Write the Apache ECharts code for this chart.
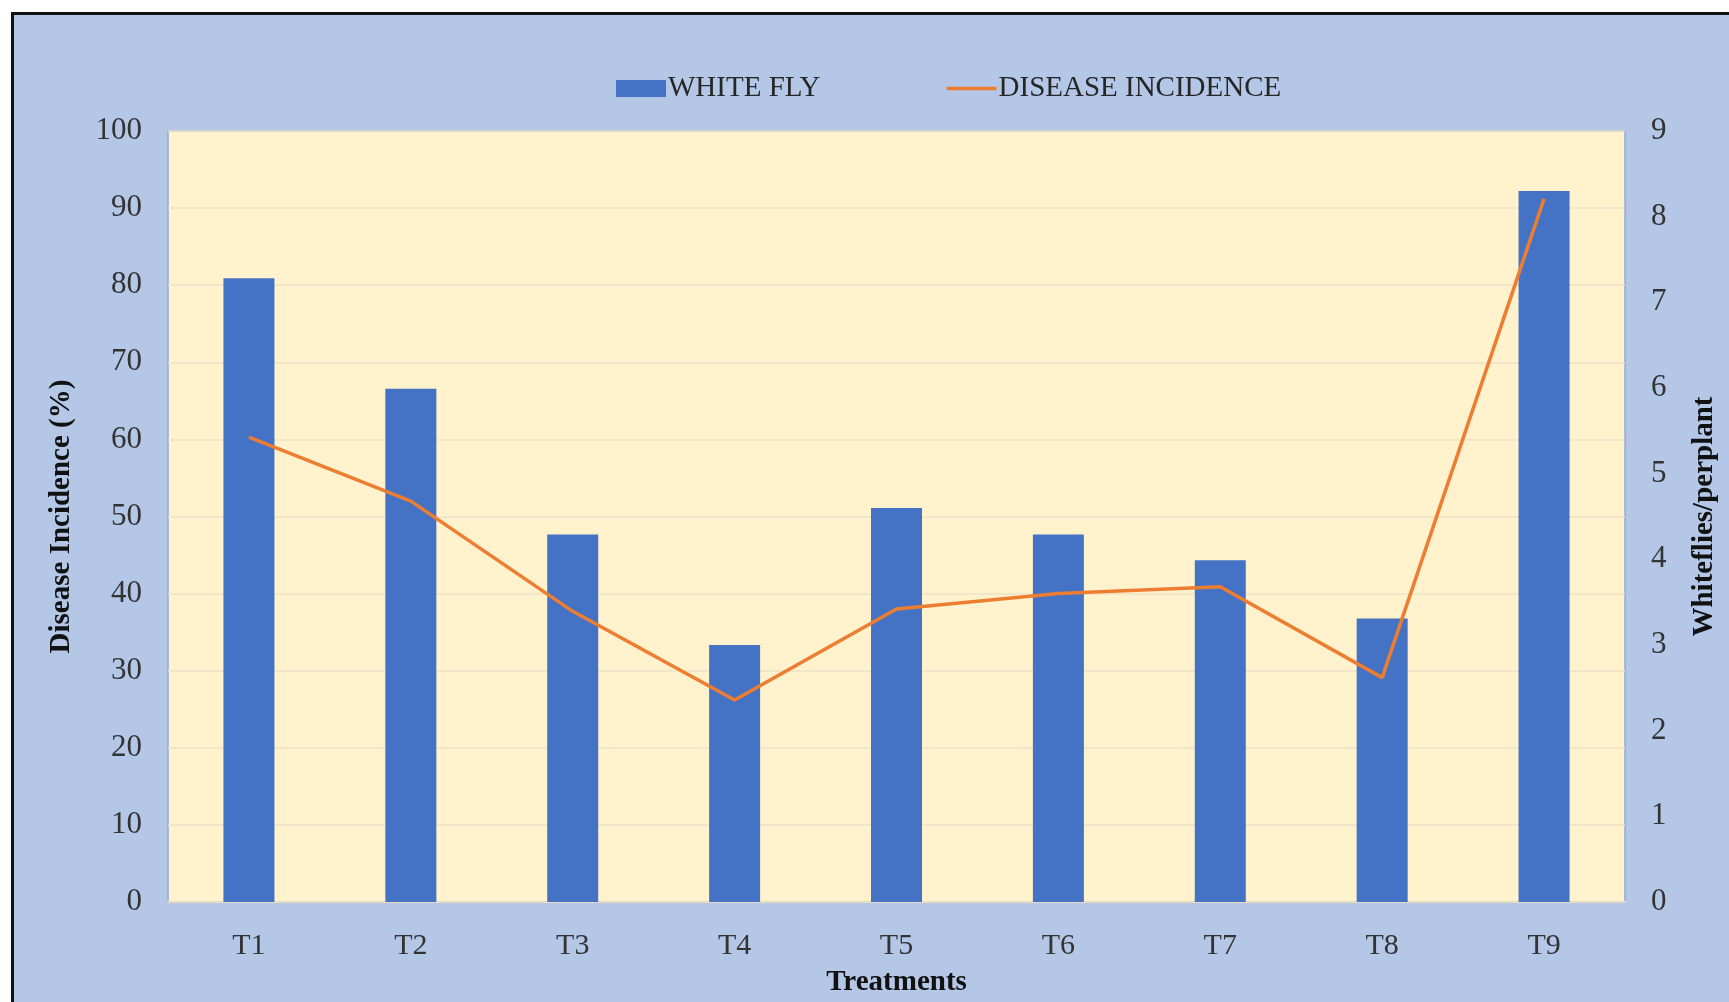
<!DOCTYPE html>
<html>
<head>
<meta charset="utf-8">
<script src="https://cdn.jsdelivr.net/npm/echarts@6/dist/echarts.min.js"></script>
<style>
html,body{margin:0;padding:0;background:#fff;width:1729px;height:1002px;overflow:hidden;}
#frame{position:absolute;left:11px;top:12px;width:1740px;height:1010px;background:#b4c7e7;border-left:3px solid #111;border-top:3px solid #111;}
#chart{position:absolute;left:0;top:0;width:1729px;height:1002px;}
</style>
</head>
<body>
<div id="frame"></div>
<div id="chart"></div>
<script>
const categories = ['T1','T2','T3','T4','T5','T6','T7','T8','T9'];
const whiteFly = [7.28, 5.99, 4.29, 3.0, 4.6, 4.29, 3.99, 3.31, 8.3];
const diseaseIncidence = [60.3, 52.0, 37.7, 26.2, 38.0, 40.0, 40.9, 29.1, 91.2];
const leftTicks = {min: 0, max: 100, interval: 10};
const rightTicks = {min: 0, max: 9, interval: 1};

const font = '"Liberation Serif", "Times New Roman", serif';
const chart = echarts.init(document.getElementById('chart'), null, {renderer: 'canvas'});
chart.setOption({
  backgroundColor: 'transparent',
  animation: false,
  textStyle: {fontFamily: font},
  legend: {
    left: 611, top: 69,
    itemWidth: 50, itemHeight: 17, itemGap: 126,
    textStyle: {fontFamily: font, fontSize: 29, color: '#262626', padding: [0,0,0,-3]},
    data: [
      {name: 'WHITE FLY', icon: 'rect'},
      {name: 'DISEASE INCIDENCE', icon: 'path://M0,0H50V3.5H0Z', itemStyle: {color: '#ed7d31'}}
    ]
  },
  grid: {
    left: 168, right: 104, top: 131, bottom: 97,
    show: true, backgroundColor: '#fff2cc', borderColor: '#8eaadb', borderWidth: 1.5
  },
  xAxis: {
    type: 'category', data: categories,
    name: 'Treatments', nameLocation: 'middle', nameGap: 66,
    nameTextStyle: {fontFamily: font, fontSize: 29, fontWeight: 'bold', color: '#111'},
    axisLine: {show: true, lineStyle: {color: '#e6dcc4', width: 2}},
    axisTick: {show: false},
    axisLabel: {fontFamily: font, fontSize: 30, color: '#333', margin: 29}
  },
  yAxis: [{
    type: 'value', min: leftTicks.min, max: leftTicks.max, interval: leftTicks.interval,
    name: 'Disease Incidence (%)', nameLocation: 'middle', nameGap: 92, nameRotate: 90,
    nameTextStyle: {fontFamily: font, fontSize: 29, fontWeight: 'bold', color: '#111'},
    axisLine: {show: false}, axisTick: {show: false},
    axisLabel: {fontFamily: font, fontSize: 31, color: '#333', margin: 26},
    splitLine: {show: true, lineStyle: {color: '#ece2c8', width: 1.5}}
  }, {
    type: 'value', min: rightTicks.min, max: rightTicks.max, interval: rightTicks.interval,
    name: 'Whiteflies/perplant', nameLocation: 'middle', nameGap: 65, nameRotate: 90,
    nameTextStyle: {fontFamily: font, fontSize: 29, fontWeight: 'bold', color: '#111'},
    axisLine: {show: false}, axisTick: {show: false},
    axisLabel: {fontFamily: font, fontSize: 31, color: '#333', margin: 26},
    splitLine: {show: false}
  }],
  series: [{
    name: 'WHITE FLY', type: 'bar', yAxisIndex: 1, data: whiteFly,
    barWidth: 51, itemStyle: {color: '#4472c4'}
  }, {
    name: 'DISEASE INCIDENCE', type: 'line', yAxisIndex: 0, data: diseaseIncidence,
    symbol: 'none', lineStyle: {color: '#ed7d31', width: 3.5}, itemStyle: {color: '#ed7d31'}, z: 5
  }]
});
</script>
</body>
</html>
